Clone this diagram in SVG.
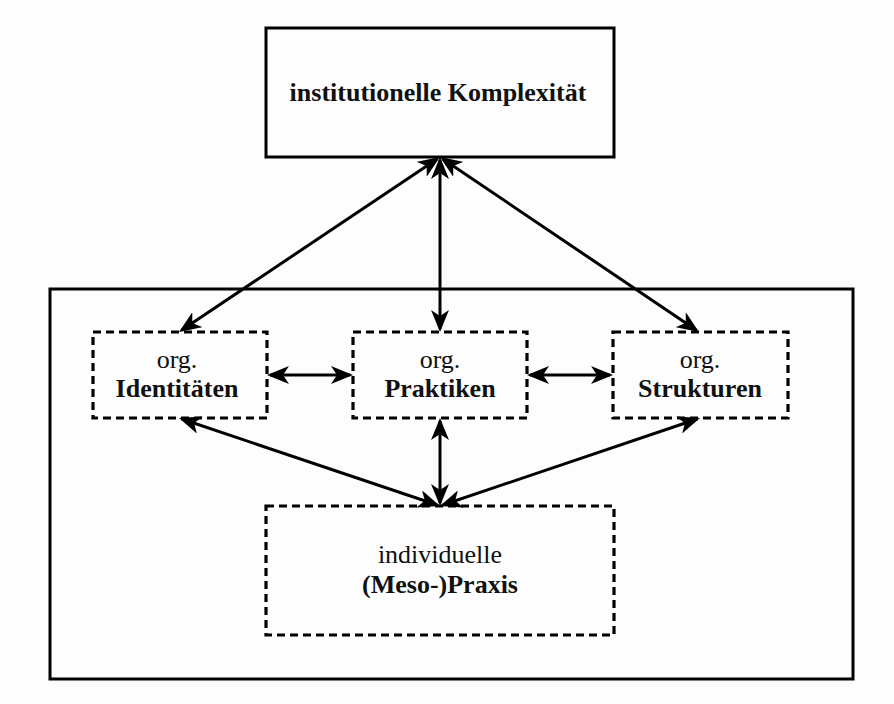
<svg xmlns="http://www.w3.org/2000/svg" width="894" height="704" viewBox="0 0 894 704">
<style>
.solid{fill:none;stroke:#000;stroke-width:3}
.dash{fill:none;stroke:#000;stroke-width:3.2;stroke-dasharray:8 5}
.t{font-family:"Liberation Serif","Times New Roman",serif;font-size:26px;fill:#111;text-anchor:middle}
.b{font-weight:bold}
.c{fill:none;stroke:#000;stroke-width:3}
</style>
<defs>
<marker id="ah" markerUnits="userSpaceOnUse" viewBox="0 0 22 18" markerWidth="22" markerHeight="18" refX="19" refY="9" orient="auto-start-reverse">
<path d="M0,0 L22,9 L0,18 L6,9 Z" fill="#000"/>
</marker>
</defs>
<rect width="894" height="704" fill="#fdfdfd"/>
<g id="outer"><rect class="solid" x="50" y="289" width="803" height="390"/></g>
<g id="komplexitaet">
<rect class="solid" x="266" y="28" width="348" height="129" fill="#fff"/>
<text class="t b" x="438" y="101">institutionelle Komplexität</text>
</g>
<g id="identitaeten">
<rect class="dash" x="93" y="332" width="174" height="86"/>
<text class="t" x="177" y="368">org.</text>
<text class="t b" x="177" y="397">Identitäten</text>
</g>
<g id="praktiken">
<rect class="dash" x="353" y="332" width="174" height="86"/>
<text class="t" x="440" y="368">org.</text>
<text class="t b" x="440" y="397">Praktiken</text>
</g>
<g id="strukturen">
<rect class="dash" x="613" y="332" width="175" height="86"/>
<text class="t" x="700" y="368">org.</text>
<text class="t b" x="700" y="397">Strukturen</text>
</g>
<g id="praxis">
<rect class="dash" x="266" y="506" width="348" height="129"/>
<text class="t" x="440" y="563">individuelle</text>
<text class="t b" x="440" y="593">(Meso-)Praxis</text>
</g>
<g id="connectors">
<line class="c" x1="437.5" y1="158.7" x2="181.5" y2="330.3" marker-start="url(#ah)" marker-end="url(#ah)"/>
<line class="c" x1="440" y1="160" x2="440" y2="329" marker-start="url(#ah)" marker-end="url(#ah)"/>
<line class="c" x1="442.5" y1="158.7" x2="696.5" y2="330.3" marker-start="url(#ah)" marker-end="url(#ah)"/>
<line class="c" x1="270" y1="375" x2="350" y2="375" marker-start="url(#ah)" marker-end="url(#ah)"/>
<line class="c" x1="530" y1="375" x2="610" y2="375" marker-start="url(#ah)" marker-end="url(#ah)"/>
<line class="c" x1="181.8" y1="419" x2="437.2" y2="505" marker-start="url(#ah)" marker-end="url(#ah)"/>
<line class="c" x1="440" y1="421" x2="440" y2="503" marker-start="url(#ah)" marker-end="url(#ah)"/>
<line class="c" x1="697.2" y1="419" x2="442.8" y2="505" marker-start="url(#ah)" marker-end="url(#ah)"/>
</g>
</svg>
